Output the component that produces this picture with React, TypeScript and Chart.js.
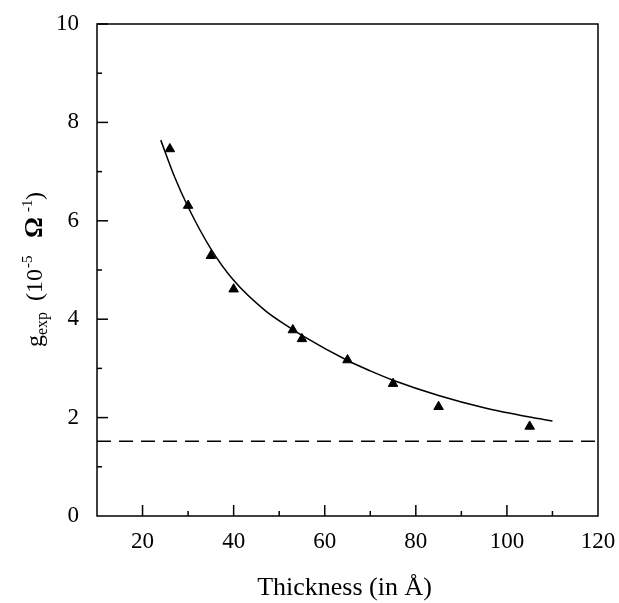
import React, { useEffect, useRef } from "react";
import { Chart, registerables } from "chart.js";

Chart.register(...registerables);

// Measured points (thickness in Å, g_exp in 1e-5 Ω^-1)
const thicknessA = [26, 30, 35, 40, 53, 55, 65, 75, 85, 105];
const gExp = [7.46, 6.31, 5.29, 4.61, 3.78, 3.6, 3.17, 2.69, 2.22, 1.82];

// Fitted curve
const fitThickness = [24, 27, 30, 35, 40, 47, 53, 55, 65, 70, 75, 85, 95, 105, 110];
const fitG = [7.64, 6.9, 6.28, 5.43, 4.79, 4.17, 3.79, 3.67, 3.16, 2.95, 2.76, 2.45, 2.2, 2.01, 1.93];

// Dashed horizontal reference level
const limitX = [10, 120];
const limitG = [1.52, 1.52];

const xMin = 10;
const xMax = 120;
const yMin = 0;
const yMax = 10;

const SERIF = '"Liberation Serif", "Times New Roman", serif';

const framePlugin = {
  id: "frameAndTitles",
  afterDraw(chart: any) {
    const { ctx, chartArea, scales } = chart;
    const { left, right, top, bottom } = chartArea;
    ctx.save();
    ctx.strokeStyle = "#000";
    ctx.lineWidth = 1.5;
    ctx.strokeRect(left, top, right - left, bottom - top);

    // inward ticks on x
    const xs = scales.x;
    for (const t of xs.ticks) {
      const v = t.value;
      if (v <= xMin || v >= xMax) continue;
      const px = xs.getPixelForValue(v);
      const len = v % 20 === 0 ? 11 : 5;
      ctx.beginPath();
      ctx.moveTo(px, bottom);
      ctx.lineTo(px, bottom - len);
      ctx.stroke();
    }
    const ys = scales.y;
    for (const t of ys.ticks) {
      const v = t.value;
      if (v <= yMin) continue;
      const py = ys.getPixelForValue(v);
      const len = v % 2 === 0 ? 11 : 5;
      ctx.beginPath();
      ctx.moveTo(left, py);
      ctx.lineTo(left + len, py);
      ctx.stroke();
    }

    // x title
    ctx.fillStyle = "#000";
    ctx.font = `26px ${SERIF}`;
    ctx.textAlign = "center";
    ctx.textBaseline = "alphabetic";
    ctx.fillText("Thickness (in Å)", (left + right) / 2 - 3, 595);

    // y title (rotated, with sub/superscripts); "at" = offset along the text from its start
    const pieces = [
      { t: "g", f: `24px ${SERIF}`, dy: 0, at: 0 },
      { t: "exp", f: `16px ${SERIF}`, dy: 5, at: 12 },
      { t: "(10", f: `24px ${SERIF}`, dy: 0, at: 46 },
      { t: "-5", f: `15px ${SERIF}`, dy: -10, at: 79 },
      { t: "Ω", f: `bold 26px ${SERIF}`, dy: 0, at: 109 },
      { t: "-1", f: `15px ${SERIF}`, dy: -10, at: 135 },
      { t: ")", f: `24px ${SERIF}`, dy: 0, at: 147 },
    ];
    ctx.translate(42, 347);
    ctx.rotate(-Math.PI / 2);
    ctx.textAlign = "left";
    for (const p of pieces) {
      ctx.font = p.f;
      ctx.fillText(p.t, p.at, p.dy);
    }
    ctx.restore();
  },
};

export default function App() {
  const ref = useRef<HTMLCanvasElement | null>(null);

  useEffect(() => {
    if (!ref.current) return;
    const points = thicknessA.map((x, i) => ({ x, y: gExp[i] }));
    const fit = fitThickness.map((x, i) => ({ x, y: fitG[i] }));
    const limit = limitX.map((x, i) => ({ x, y: limitG[i] }));

    const chart = new Chart(ref.current, {
      type: "scatter",
      data: {
        datasets: [
          {
            label: "limit",
            data: limit,
            showLine: true,
            borderColor: "#000",
            borderWidth: 1.5,
            borderDash: [14, 8],
            pointRadius: 0,
          },
          {
            label: "fit",
            data: fit,
            showLine: true,
            borderColor: "#000",
            borderWidth: 1.5,
            cubicInterpolationMode: "monotone",
            pointRadius: 0,
          },
          {
            label: "g_exp",
            data: points,
            pointStyle: "triangle",
            pointRadius: 5.5,
            pointBackgroundColor: "#000",
            pointBorderColor: "#000",
            pointBorderWidth: 1,
            showLine: false,
          },
        ],
      },
      plugins: [framePlugin],
      options: {
        animation: false,
        responsive: false,
        layout: { padding: { top: 24, right: 21, left: 0, bottom: 0 } },
        plugins: {
          legend: { display: false },
          tooltip: { enabled: false },
          title: { display: false },
        },
        scales: {
          x: {
            type: "linear",
            min: xMin,
            max: xMax,
            grid: { display: false, drawTicks: false },
            border: { display: false },
            afterFit: (s: any) => {
              s.height = 87;
              s.paddingLeft = 0;
              s.paddingRight = 0;
            },
            ticks: {
              stepSize: 10,
              autoSkip: false,
              maxRotation: 0,
              padding: 12,
              color: "#000",
              font: { family: SERIF, size: 23 },
              callback: (v: any) => (v % 20 === 0 ? String(v) : ""),
            },
          },
          y: {
            type: "linear",
            min: yMin,
            max: yMax,
            grid: { display: false, drawTicks: false },
            border: { display: false },
            afterFit: (s: any) => {
              s.width = 97;
              s.paddingTop = 0;
              s.paddingBottom = 0;
            },
            ticks: {
              stepSize: 1,
              autoSkip: false,
              padding: 18,
              color: "#000",
              font: { family: SERIF, size: 23 },
              callback: (v: any) => (v % 2 === 0 ? String(v) : ""),
            },
          },
        },
      } as any,
    });
    return () => chart.destroy();
  }, []);

  return (
    <div style={{ position: "absolute", left: 0, top: 0, width: 619, height: 603, background: "#fff" }}>
      <canvas ref={ref} width={619} height={603} />
    </div>
  );
}
